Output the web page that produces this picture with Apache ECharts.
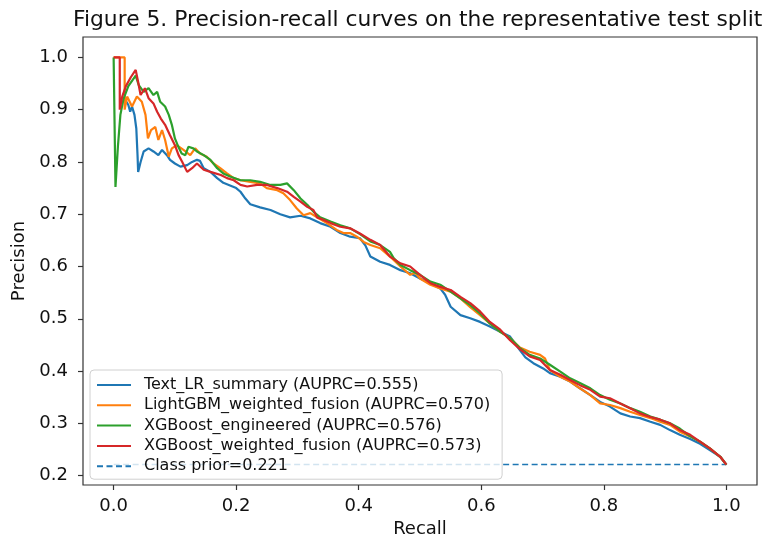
<!DOCTYPE html>
<html>
<head>
<meta charset="utf-8">
<script src="https://cdn.jsdelivr.net/npm/echarts@6/dist/echarts.min.js"></script>
<style>
html,body{margin:0;padding:0;background:#fff;}
#chart{width:766px;height:535px;}
</style>
</head>
<body>
<div id="chart"></div>
<script>
// ---- Data (recall, precision) ----
const titleText = "Figure 5. Precision-recall curves on the representative test split";
const xTicks = [0.0, 0.2, 0.4, 0.6, 0.8, 1.0];
const yTicks = [0.2, 0.3, 0.4, 0.5, 0.6, 0.7, 0.8, 0.9, 1.0];
const seriesNames = [
  "Text_LR_summary (AUPRC=0.555)",
  "LightGBM_weighted_fusion (AUPRC=0.570)",
  "XGBoost_engineered (AUPRC=0.576)",
  "XGBoost_weighted_fusion (AUPRC=0.573)",
  "Class prior=0.221"
];
const classPrior = 0.221;

const textLRSummary = [[0.021,0.915],[0.024,0.909],[0.027,0.896],[0.030,0.906],[0.034,0.890],[0.037,0.864],[0.039,0.813],[0.040,0.781],[0.044,0.800],[0.049,0.820],[0.057,0.826],[0.065,0.820],[0.073,0.813],[0.079,0.823],[0.087,0.813],[0.092,0.804],[0.100,0.797],[0.109,0.791],[0.120,0.794],[0.128,0.800],[0.136,0.804],[0.141,0.802],[0.147,0.788],[0.158,0.781],[0.169,0.769],[0.179,0.760],[0.190,0.755],[0.200,0.750],[0.207,0.743],[0.215,0.730],[0.223,0.719],[0.239,0.713],[0.256,0.708],[0.272,0.700],[0.288,0.694],[0.305,0.697],[0.321,0.692],[0.337,0.683],[0.354,0.676],[0.370,0.664],[0.386,0.657],[0.402,0.654],[0.411,0.640],[0.419,0.619],[0.435,0.609],[0.451,0.603],[0.468,0.593],[0.484,0.587],[0.500,0.577],[0.517,0.568],[0.533,0.558],[0.541,0.546],[0.550,0.523],[0.566,0.507],[0.582,0.501],[0.598,0.494],[0.614,0.485],[0.631,0.475],[0.647,0.466],[0.663,0.440],[0.672,0.426],[0.685,0.415],[0.701,0.405],[0.712,0.396],[0.729,0.389],[0.745,0.380],[0.761,0.367],[0.778,0.354],[0.794,0.341],[0.810,0.332],[0.827,0.319],[0.843,0.313],[0.859,0.310],[0.876,0.303],[0.892,0.297],[0.908,0.287],[0.924,0.278],[0.941,0.270],[0.957,0.261],[0.973,0.249],[0.990,0.236],[1.000,0.221]];

const lightGBMWeightedFusion = [[0,1.0],[0.018,1.0],[0.018,0.900],[0.022,0.925],[0.030,0.906],[0.038,0.925],[0.046,0.915],[0.052,0.890],[0.056,0.845],[0.061,0.861],[0.068,0.867],[0.073,0.842],[0.079,0.861],[0.084,0.842],[0.090,0.810],[0.095,0.826],[0.103,0.832],[0.114,0.823],[0.125,0.813],[0.133,0.826],[0.141,0.816],[0.152,0.810],[0.163,0.797],[0.174,0.788],[0.185,0.778],[0.196,0.769],[0.207,0.765],[0.223,0.762],[0.239,0.759],[0.250,0.750],[0.267,0.746],[0.277,0.740],[0.288,0.727],[0.299,0.711],[0.310,0.698],[0.321,0.702],[0.332,0.694],[0.348,0.683],[0.364,0.670],[0.375,0.664],[0.386,0.664],[0.397,0.657],[0.408,0.647],[0.419,0.641],[0.435,0.635],[0.451,0.619],[0.468,0.600],[0.484,0.584],[0.492,0.588],[0.500,0.577],[0.517,0.565],[0.533,0.558],[0.550,0.552],[0.566,0.539],[0.582,0.522],[0.598,0.507],[0.614,0.491],[0.631,0.475],[0.647,0.463],[0.663,0.445],[0.679,0.437],[0.696,0.431],[0.704,0.424],[0.712,0.402],[0.729,0.389],[0.745,0.380],[0.761,0.367],[0.778,0.354],[0.794,0.338],[0.810,0.335],[0.827,0.329],[0.843,0.322],[0.859,0.316],[0.876,0.310],[0.892,0.303],[0.908,0.297],[0.924,0.284],[0.941,0.275],[0.957,0.265],[0.973,0.252],[0.990,0.236],[1.000,0.221]];

const xgbEngineered = [[0,1.0],[0.003,1.0],[0.003,0.752],[0.007,0.830],[0.011,0.890],[0.016,0.920],[0.024,0.945],[0.036,0.965],[0.041,0.947],[0.049,0.934],[0.057,0.941],[0.065,0.928],[0.071,0.934],[0.076,0.915],[0.084,0.906],[0.090,0.890],[0.095,0.871],[0.100,0.845],[0.106,0.828],[0.111,0.816],[0.117,0.813],[0.122,0.829],[0.130,0.826],[0.136,0.820],[0.147,0.813],[0.158,0.804],[0.169,0.788],[0.179,0.778],[0.190,0.772],[0.207,0.765],[0.223,0.765],[0.239,0.762],[0.256,0.756],[0.272,0.756],[0.283,0.759],[0.294,0.746],[0.305,0.730],[0.316,0.718],[0.326,0.705],[0.337,0.694],[0.354,0.686],[0.370,0.679],[0.386,0.673],[0.402,0.662],[0.419,0.648],[0.435,0.641],[0.451,0.628],[0.457,0.616],[0.468,0.603],[0.484,0.593],[0.500,0.584],[0.517,0.571],[0.533,0.565],[0.550,0.552],[0.566,0.539],[0.582,0.526],[0.598,0.510],[0.614,0.491],[0.631,0.475],[0.647,0.463],[0.663,0.444],[0.679,0.431],[0.696,0.424],[0.712,0.412],[0.729,0.399],[0.745,0.386],[0.761,0.377],[0.778,0.367],[0.794,0.354],[0.810,0.345],[0.827,0.338],[0.843,0.329],[0.859,0.322],[0.876,0.313],[0.892,0.307],[0.908,0.300],[0.924,0.290],[0.941,0.275],[0.957,0.265],[0.973,0.252],[0.990,0.236],[1.000,0.221]];

const xgbWeightedFusion = [[0,1.0],[0.010,1.0],[0.010,0.900],[0.014,0.925],[0.020,0.945],[0.028,0.962],[0.036,0.976],[0.040,0.953],[0.044,0.928],[0.051,0.941],[0.057,0.922],[0.065,0.912],[0.071,0.896],[0.077,0.883],[0.084,0.871],[0.092,0.851],[0.100,0.832],[0.106,0.813],[0.112,0.800],[0.120,0.781],[0.128,0.788],[0.136,0.797],[0.147,0.785],[0.158,0.781],[0.175,0.775],[0.185,0.769],[0.196,0.765],[0.207,0.756],[0.218,0.753],[0.234,0.756],[0.250,0.756],[0.267,0.750],[0.283,0.743],[0.294,0.733],[0.305,0.724],[0.316,0.714],[0.326,0.708],[0.332,0.694],[0.343,0.689],[0.354,0.683],[0.370,0.676],[0.386,0.673],[0.402,0.663],[0.419,0.651],[0.435,0.641],[0.451,0.619],[0.468,0.606],[0.484,0.600],[0.500,0.584],[0.517,0.568],[0.533,0.561],[0.550,0.555],[0.566,0.542],[0.582,0.530],[0.598,0.514],[0.614,0.494],[0.631,0.479],[0.647,0.459],[0.663,0.442],[0.679,0.428],[0.696,0.421],[0.712,0.402],[0.729,0.393],[0.745,0.383],[0.761,0.373],[0.778,0.364],[0.794,0.351],[0.810,0.348],[0.827,0.338],[0.843,0.329],[0.859,0.319],[0.876,0.312],[0.892,0.307],[0.908,0.300],[0.924,0.287],[0.941,0.278],[0.957,0.265],[0.973,0.252],[0.990,0.236],[1.000,0.221]];

const priorLine = [[0, classPrior], [1, classPrior]];

// ---- Chart ----
const colors = ['#1f77b4', '#ff7f0e', '#2ca02c', '#d62728', '#1f77b4'];
const FONT = "'DejaVu Sans', sans-serif";
const chart = echarts.init(document.getElementById('chart'), null, {renderer: 'canvas'});

function curve(name, data, color, z) {
  return {
    name: name, type: 'line', data: data, symbol: 'none', showSymbol: false,
    lineStyle: {color: color, width: 2.2}, itemStyle: {color: color},
    z: z, animation: false, silent: true
  };
}

const option = {
  animation: false,
  backgroundColor: '#ffffff',
  title: {
    text: titleText, left: 68, top: 4,
    textStyle: {fontFamily: FONT, fontSize: 21.8, fontWeight: 'normal', color: '#111'}
  },
  grid: {left: 83, right: 9, top: 37, bottom: 50, containLabel: false, outerBoundsMode: 'none',
    show: true, borderColor: '#333', borderWidth: 1.2, backgroundColor: '#fff'},
  legend: {
    orient: 'vertical', left: 90, top: 370,
    padding: [7, 12, 5, 6],
    itemWidth: 34, itemHeight: 16, itemGap: 4.3,
    backgroundColor: 'rgba(255,255,255,0.8)', borderColor: '#d0d0d0', borderWidth: 1, borderRadius: 4,
    itemStyle: {color: 'rgba(0,0,0,0)', borderColor: 'rgba(0,0,0,0)', borderWidth: 0, opacity: 0},
    textStyle: {fontFamily: FONT, fontSize: 16, color: '#111', padding: [0, 0, 0, 8]},
    data: seriesNames
  },
  xAxis: {
    type: 'value', min: -0.05, max: 1.05,
    name: 'Recall', nameLocation: 'middle', nameGap: 33,
    nameTextStyle: {fontFamily: FONT, fontSize: 18, color: '#111'},
    axisLine: {show: false, onZero: false},
    splitLine: {show: false},
    axisTick: {show: true, length: 5, customValues: xTicks, lineStyle: {color: '#333', width: 1.2}},
    axisLabel: {customValues: xTicks, margin: 12, fontFamily: FONT, fontSize: 18, color: '#111',
      formatter: v => v.toFixed(1)}
  },
  yAxis: {
    type: 'value', min: 0.182, max: 1.039,
    name: 'Precision', nameLocation: 'middle', nameGap: 52,
    nameTextStyle: {fontFamily: FONT, fontSize: 18, color: '#111'},
    axisLine: {show: false, onZero: false},
    splitLine: {show: false},
    axisTick: {show: true, length: 5, customValues: yTicks, lineStyle: {color: '#333', width: 1.2}},
    axisLabel: {customValues: yTicks, margin: 15, fontFamily: FONT, fontSize: 18, color: '#111',
      formatter: v => v.toFixed(1)}
  },
  series: [
    curve(seriesNames[0], textLRSummary, colors[0], 2),
    curve(seriesNames[1], lightGBMWeightedFusion, colors[1], 3),
    curve(seriesNames[2], xgbEngineered, colors[2], 4),
    curve(seriesNames[3], xgbWeightedFusion, colors[3], 5),
    {
      name: seriesNames[4], type: 'line', data: priorLine, symbol: 'none', showSymbol: false,
      lineStyle: {color: colors[4], width: 1.5, type: [6, 3.5]}, itemStyle: {color: colors[4]},
      z: 1, animation: false, silent: true
    }
  ]
};
chart.setOption(option);
</script>
</body>
</html>
